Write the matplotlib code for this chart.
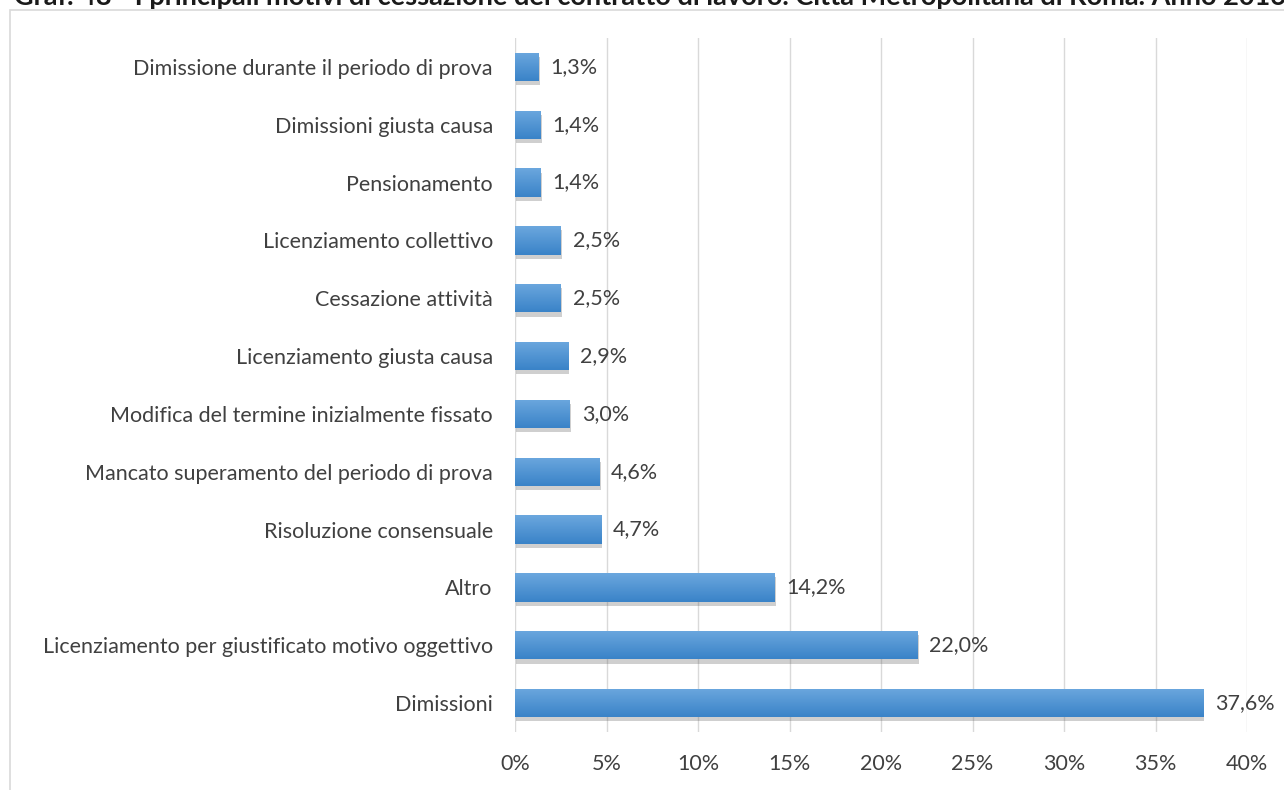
import numpy as np
import matplotlib.pyplot as plt
import matplotlib.patheffects as pe
from matplotlib.patches import Rectangle
from matplotlib.colors import LinearSegmentedColormap

categories = [
    "Dimissione durante il periodo di prova",
    "Dimissioni giusta causa",
    "Pensionamento",
    "Licenziamento collettivo",
    "Cessazione attività",
    "Licenziamento giusta causa",
    "Modifica del termine inizialmente fissato",
    "Mancato superamento del periodo di prova",
    "Risoluzione consensuale",
    "Altro",
    "Licenziamento per giustificato motivo oggettivo",
    "Dimissioni",
]
values = [1.3, 1.4, 1.4, 2.5, 2.5, 2.9, 3.0, 4.6, 4.7, 14.2, 22.0, 37.6]
xticks = [0, 5, 10, 15, 20, 25, 30, 35, 40]
title = "Graf. 48 - I principali motivi di cessazione del contratto di lavoro. Città Metropolitana di Roma. Anno 2016"

plt.rcParams['font.family'] = ['Lato', 'DejaVu Sans']
txt = '#404040'

fig = plt.figure(figsize=(12.84, 7.9), dpi=100)
ax = fig.add_axes([515/1284, 1-732/790, 732/1284, 694/790])

# outer chart frame, cut off on the right and bottom like the source
fig.patches.append(Rectangle((10/1284, -0.1), 1.2, 1-10/790+0.1, transform=fig.transFigure,
                             fill=False, edgecolor='#d9d9d9', linewidth=1.2))
# title is cropped at the top in the source
fig.text(14/1284, 1-5/790, title, fontsize=19.5, fontweight='bold', color='#1a1a1a',
         ha='left', va='baseline')

y = np.arange(len(categories))
bars = ax.barh(y, values, height=0.49, color='#4a8fd2', zorder=3,
               path_effects=[pe.SimplePatchShadow(offset=(1, -3), alpha=0.3, shadow_rgbFace='#606060'), pe.Normal()])

grad = np.linspace(0, 1, 50).reshape(-1, 1)
cmap = LinearSegmentedColormap.from_list('b', ['#6ba7de', '#3a83c8'])
for b in bars:
    x0, y0, w, h = b.get_x(), b.get_y(), b.get_width(), b.get_height()
    im = ax.imshow(grad, cmap=cmap, aspect='auto', extent=(x0, x0 + w, y0 + h, y0), zorder=4)
    im.set_clip_path(b)

for yi, v in zip(y, values):
    ax.text(v + 0.65, yi, f"{v:.1f}%".replace('.', ','), va='center', ha='left', fontsize=15.5, color=txt)

ax.set_xlim(0, 40)
ax.set_ylim(len(categories) - 0.5, -0.5)
ax.set_xticks(xticks)
ax.set_xticklabels([f"{t}%" for t in xticks], fontsize=15.5, color=txt)
ax.set_yticks(y)
ax.set_yticklabels(categories, fontsize=15.5, color=txt)
ax.tick_params(axis='x', length=0, pad=16)
ax.tick_params(axis='y', length=0, pad=16)
ax.grid(axis='x', color='#d9d9d9', linewidth=1, zorder=0)
for s in ax.spines.values():
    s.set_visible(False)

fig.savefig('out.png', dpi=100)
